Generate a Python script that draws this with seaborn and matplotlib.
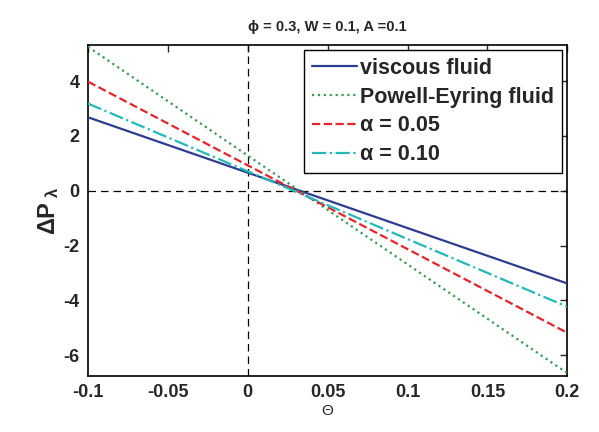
import matplotlib
matplotlib.use("Agg")
import matplotlib.pyplot as plt
import seaborn as sns
import pandas as pd

theta = [-0.1, 0.2]
viscous = [2.68, -3.38]
powell = [5.25, -6.65]
alpha005 = [3.98, -5.18]
alpha010 = [3.18, -4.23]

labels = ["viscous fluid", "Powell-Eyring fluid", "α = 0.05", "α = 0.10"]
series = [viscous, powell, alpha005, alpha010]
colors = ["#2f3c8f", "#3c9a55", "#e2262c", "#22b8b8"]
styles = ["-", ":", "--", "-."]

xticks = [-0.1, -0.05, 0, 0.05, 0.1, 0.15, 0.2]
xticklabels = ["-0.1", "-0.05", "0", "0.05", "0.1", "0.15", "0.2"]
yticks = [-6, -4, -2, 0, 2, 4]
yticklabels = ["-6", "-4", "-2", "0", "2", "4"]

sns.set_style("white")
plt.rcParams['font.family'] = ['Liberation Sans', 'DejaVu Sans']
plt.rcParams['mathtext.fontset'] = 'custom'
plt.rcParams['mathtext.rm'] = 'Liberation Sans:bold'
plt.rcParams['mathtext.bf'] = 'Liberation Sans:bold'
plt.rcParams['mathtext.it'] = 'Liberation Sans:bold'

rows = []
for lab, vals in zip(labels, series):
    for x, y in zip(theta, vals):
        rows.append({"theta": x, "dp": y, "case": lab})
df = pd.DataFrame(rows)

fig = plt.figure(figsize=(5.99, 4.32), dpi=100)
ax = fig.add_axes([0.147, 0.130, 0.800, 0.766])

ax.axhline(0, color="black", ls=(0, (6, 4)), lw=0.9, zorder=1)
ax.axvline(0, color="black", ls=(0, (6, 4)), lw=0.9, zorder=1)

for lab, col, st in zip(labels, colors, styles):
    sub = df[df["case"] == lab]
    sns.lineplot(data=sub, x="theta", y="dp", ax=ax, color=col, linestyle=st,
                 lw=1.6, label=lab, zorder=3)

ax.set_xlim(-0.1, 0.2)
ax.set_ylim(-6.75, 5.32)
ax.set_xticks(xticks)
ax.set_xticklabels(xticklabels)
ax.set_yticks(yticks)
ax.set_yticklabels(yticklabels)
ax.tick_params(direction="in", top=True, right=True, length=5, width=1,
               labelsize=13, pad=6)
for t in ax.get_xticklabels() + ax.get_yticklabels():
    t.set_fontweight("bold")
for s in ax.spines.values():
    s.set_color("black")
    s.set_linewidth(1.2)

ax.set_xlabel("Θ", fontsize=11, labelpad=2)
ax.set_ylabel(r"$\mathbf{\Delta P_{\ \lambda}}$", fontsize=17, labelpad=2)
ax.set_title("ϕ = 0.3, W = 0.1, A =0.1", fontsize=10.5, fontweight="bold", pad=10)

leg = ax.legend(loc="upper right", fontsize=15.5, frameon=True, fancybox=False,
                edgecolor="black", borderaxespad=0.25, handlelength=2.1,
                labelspacing=0.36, handletextpad=0.15, borderpad=0.35,
                framealpha=1)
leg.get_frame().set_linewidth(1.0)
for t in leg.get_texts():
    t.set_fontweight("bold")

fig.savefig("out.png", dpi=100)
